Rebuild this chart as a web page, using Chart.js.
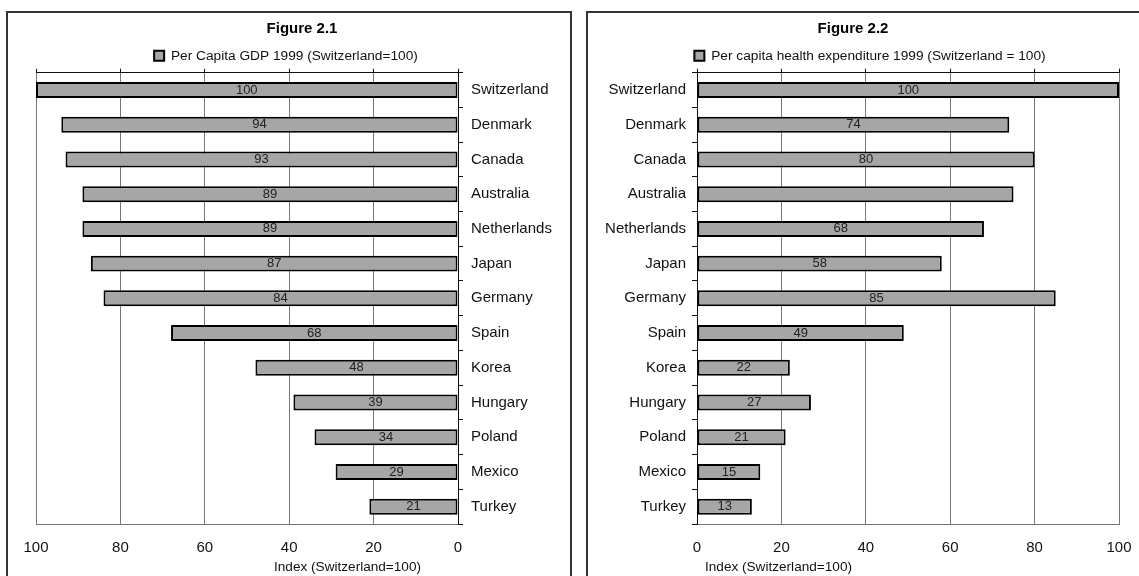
<!DOCTYPE html>
<html>
<head>
<meta charset="utf-8">
<script src="https://cdn.jsdelivr.net/npm/chart.js@4.4.1/dist/chart.umd.min.js"></script>
<style>
  html, body { margin: 0; padding: 0; background: #fff; overflow: hidden; }
  .panel { position: absolute; top: 11px; height: 600px; border: 2px solid #333; box-sizing: border-box; background: #fff; }
  #p1 { left: 6px; width: 566px; }
  #p2 { left: 586px; width: 580px; }
  .panel canvas { position: absolute; left: 0; top: 0; }
</style>
</head>
<body>
<div class="panel" id="p1"><canvas id="gdpChart" width="560" height="563"></canvas></div>
<div class="panel" id="p2"><canvas id="healthChart" width="551" height="563"></canvas></div>
<script>
// Chart data
const countries = ['Switzerland', 'Denmark', 'Canada', 'Australia', 'Netherlands', 'Japan', 'Germany',
    'Spain', 'Korea', 'Hungary', 'Poland', 'Mexico', 'Turkey'];
const gdpIndex = [100, 94, 93, 89, 89, 87, 84, 68, 48, 39, 34, 29, 21];
const healthIndex = [100, 74, 80, 75, 68, 58, 85, 49, 22, 27, 21, 15, 13];
// the health chart prints no value on the Australia bar
const healthNoLabel = ['Australia'];
const xTicks = [0, 20, 40, 60, 80, 100];

const FONT = "'Liberation Sans', Arial, sans-serif";
const BAR_FILL = '#a6a6a6';
const GRID = '#777';

// Value printed in the middle of each bar
const barLabels = {
    id: 'barLabels',
    afterDatasetsDraw(chart, args, opts) {
        const ctx = chart.ctx;
        const meta = chart.getDatasetMeta(0);
        ctx.save();
        ctx.font = '13px ' + FONT;
        ctx.fillStyle = '#222';
        ctx.textAlign = 'center';
        ctx.textBaseline = 'middle';
        meta.data.forEach((bar, i) => {
            const cat = chart.data.labels[i];
            if (opts.skip && opts.skip.includes(cat)) return;
            const v = chart.data.datasets[0].data[i];
            ctx.fillText(String(v), (bar.x + bar.base) / 2, bar.y);
        });
        ctx.restore();
    }
};

// Figure heading and axis title, placed like the original
const panelText = {
    id: 'panelText',
    afterDraw(chart, args, opts) {
        const ctx = chart.ctx;
        const a = chart.chartArea;
        ctx.save();
        ctx.fillStyle = '#000';
        ctx.textBaseline = 'middle';
        ctx.textAlign = 'center';
        ctx.font = 'bold 15px ' + FONT;
        ctx.fillText(opts.heading, opts.headingX, 16);

        ctx.font = '13.6px ' + FONT;
        ctx.fillStyle = '#111';
        if (opts.side === 'right') {
            ctx.textAlign = 'right';
            ctx.fillText(opts.axisText, a.right - 37, a.bottom + 43);
        } else {
            ctx.textAlign = 'left';
            ctx.fillText(opts.axisText, a.left + 8, a.bottom + 43);
        }
        ctx.restore();
    }
};

function makeChart(canvasId, heading, legendText, values, reversed, skip) {
    const ctx = document.getElementById(canvasId);
    const fixWidth = w => (scale => { scale.width = w; });
    const fixHeight = (h, padL, padR) => (scale => {
        scale.height = h;
        scale.paddingLeft = padL;
        scale.paddingRight = padR;
    });

    return new Chart(ctx, {
        type: 'bar',
        data: {
            labels: countries,
            datasets: [{
                label: legendText,
                data: values,
                backgroundColor: BAR_FILL,
                borderColor: '#000',
                borderWidth: 2,
                borderSkipped: false,
                barPercentage: 0.46,
                categoryPercentage: 1
            }]
        },
        options: {
            indexAxis: 'y',
            responsive: false,
            animation: false,
            layout: {
                padding: reversed ? { left: 0, right: 4, top: 26, bottom: 0 }
                                  : { left: 13, right: 0, top: 26, bottom: 0 }
            },
            plugins: {
                title: { display: false },
                legend: {
                    display: true,
                    labels: {
                        color: '#111',
                        font: { family: FONT, size: 13.7 },
                        boxWidth: 10,
                        boxHeight: 10,
                        padding: 10
                    },
                    onClick: null
                },
                tooltip: { enabled: false },
                barLabels: { skip: skip },
                panelText: {
                    heading: heading,
                    headingX: reversed ? 294 : 265,
                    axisText: 'Index (Switzerland=100)',
                    side: reversed ? 'right' : 'left'
                }
            },
            scales: {
                x: {
                    type: 'linear',
                    position: 'bottom',
                    min: 0,
                    max: 100,
                    reverse: reversed,
                    afterBuildTicks: s => { s.ticks = xTicks.map(v => ({ value: v })); },
                    afterFit: reversed ? fixHeight(52, 28, 0) : fixHeight(52, 0, 20),
                    grid: { color: GRID, lineWidth: 1, drawTicks: false },
                    border: { display: true, color: GRID, width: 1 },
                    ticks: {
                        color: '#111',
                        font: { family: FONT, size: 15 },
                        padding: 15,
                        maxRotation: 0
                    }
                },
                x2: {
                    type: 'linear',
                    position: 'top',
                    min: 0,
                    max: 100,
                    reverse: reversed,
                    afterBuildTicks: s => { s.ticks = xTicks.map(v => ({ value: v })); },
                    afterFit: fixHeight(0, 0, 0),
                    grid: { drawOnChartArea: false, color: '#111', tickLength: 4 },
                    border: { display: true, color: '#111', width: 1 },
                    ticks: { display: false }
                },
                y: {
                    position: reversed ? 'right' : 'left',
                    afterFit: fixWidth(reversed ? 106 : 96),
                    grid: { drawOnChartArea: false, color: '#111', tickLength: 5, offset: true },
                    border: { display: true, color: '#111', width: 1 },
                    ticks: {
                        color: '#111',
                        font: { family: FONT, size: 15 },
                        padding: reversed ? 8 : 6,
                        crossAlign: 'near'
                    }
                }
            }
        },
        plugins: [barLabels, panelText]
    });
}

makeChart('gdpChart', 'Figure 2.1', 'Per Capita GDP 1999 (Switzerland=100)', gdpIndex, true, []);
makeChart('healthChart', 'Figure 2.2', 'Per capita health expenditure 1999 (Switzerland = 100)', healthIndex, false, healthNoLabel);
</script>
</body>
</html>
